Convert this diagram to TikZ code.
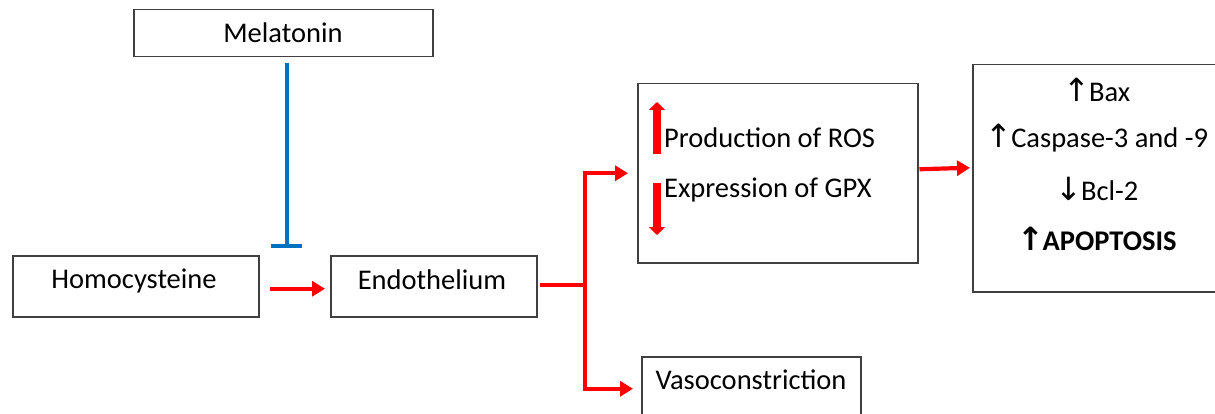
\documentclass[tikz,border=0pt]{standalone}
\usepackage{fontspec}
\setmainfont{Carlito}
\newfontfamily\arrfont{DejaVu Sans}
\usetikzlibrary{arrows.meta}
\definecolor{bluearr}{RGB}{0,112,192}
\definecolor{boxline}{RGB}{64,64,64}
\newcommand{\uparr}{{\fontsize{32}{32}\selectfont\arrfont ↑}\kern-1.5pt}
\newcommand{\dnarr}{{\fontsize{32}{32}\selectfont\arrfont ↓}\kern-1.5pt}
\begin{document}
\begin{tikzpicture}[x=1pt,y=-1pt,
  box/.style={draw=boxline, line width=1.5pt, inner sep=0pt, anchor=north west},
  txt/.style={font=\fontsize{28.5}{32}\selectfont, inner sep=0pt},
  redarrow/.style={draw=red, line width=4.2pt, -{Triangle[length=13pt,width=15pt]}},
  bigarrow/.style={draw=red, line width=8pt, -{Triangle[length=8pt,width=16pt]}},
  inhib/.style={draw=bluearr, line width=4pt, -{Bar[width=31pt]}},
]
\useasboundingbox (0,0) rectangle (1215,414);
\clip (0,0) rectangle (1215,414);
\fill[white] (0,0) rectangle (1215,414);
% boxes
\node[box, minimum width=299pt, minimum height=47pt] (mel) at (133,9) {};
\node[box, minimum width=246pt, minimum height=61pt] (homo) at (12,255) {};
\node[box, minimum width=206pt, minimum height=61pt] (endo) at (330,255) {};
\node[box, minimum width=280pt, minimum height=179pt] (ros) at (637,83) {};
\node[box, minimum width=250pt, minimum height=227pt] (apo) at (972,64) {};
\node[box, minimum width=219pt, minimum height=64pt] (vaso) at (641,356) {};
% texts
\node[txt] (tmel) at (283,33) {Melatonin};
\node[txt] (thomo) at (134,281) {Homocysteine};
\node[txt] (tendo) at (432,280) {Endothelium};
\node[txt, anchor=base west] (tros) at (664,148) {Production of ROS};
\node[txt, anchor=base west] (tgpx) at (664,198) {Expression of GPX};
\node[txt] (tvaso) at (751,380) {Vasoconstriction};
\node[txt] (tbax) at (1097,90) {\uparr Bax};
\node[txt] (tcas) at (1097,138) {\uparr Caspase-3 and -9};
\node[txt] (tbcl) at (1097,189) {\dnarr Bcl-2};
\node[txt] (tapo) at (1097,239) {{\fontsize{32}{32}\selectfont\arrfont\bfseries ↑}\kern-1.5pt\textbf{APOPTOSIS}};
% up/down arrows inside ROS box
\draw[bigarrow] (657,154) -- (657,102);
\draw[bigarrow] (657,183) -- (657,235);
% connectors
\draw[inhib] ([xshift=3.5pt,yshift=-6pt]mel.south) -- ([xshift=3.5pt]mel.south |- 0,248);
\draw[redarrow] ([xshift=10pt,yshift=-2.5pt]homo.east) -- ([xshift=-5pt,yshift=-2.5pt]endo.west);
\draw[redarrow] ([xshift=2pt,yshift=1pt]endo.east) -| ([xshift=-52pt]ros.west) -- ([xshift=-9pt]ros.west);
\draw[redarrow] ([xshift=2pt,yshift=1pt]endo.east) -| ([xshift=-56pt]vaso.west) -- ([xshift=-8pt]vaso.west);
\draw[redarrow] ([xshift=1pt,yshift=4pt]ros.east) -- ([xshift=-2pt,yshift=10.5pt]apo.west);
\end{tikzpicture}
\end{document}
